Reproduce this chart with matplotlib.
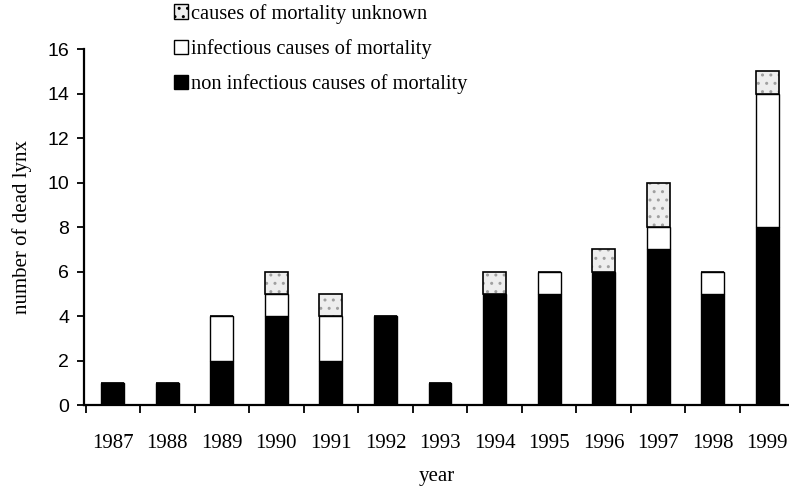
import numpy as np
import matplotlib.pyplot as plt
from matplotlib.patches import Patch

years = ["1987", "1988", "1989", "1990", "1991", "1992", "1993",
         "1994", "1995", "1996", "1997", "1998", "1999"]
non_infectious = [1, 1, 2, 4, 2, 4, 1, 5, 5, 6, 7, 5, 8]
infectious = [0, 0, 2, 1, 2, 0, 0, 0, 1, 0, 1, 1, 6]
unknown = [0, 0, 0, 1, 1, 0, 0, 1, 0, 1, 2, 0, 1]

serif = "Liberation Serif"
sans = "Liberation Sans"

fig = plt.figure(figsize=(7.89, 4.90), dpi=100)
ax = fig.add_axes([0.107, 0.173, 0.893, 0.727])

x = np.arange(len(years))
w = 0.42
nonInf = np.array(non_infectious)
inf = np.array(infectious)
unk = np.array(unknown)

ax.bar(x, nonInf, w, color="black", edgecolor="black", linewidth=1)
ax.bar(x, inf, w, bottom=nonInf, color="white", edgecolor="black", linewidth=1)
# stippled grey segment: texture first, then the outline on top
ax.bar(x, unk, w, bottom=nonInf + inf, color="#eeeeee", edgecolor="#a0a0a0",
       hatch="..", linewidth=0)
ax.bar(x, unk, w, bottom=nonInf + inf, fill=False, edgecolor="black", linewidth=1.2)

ax.set_xlim(-0.52, 12.4)
ax.set_ylim(0, 16)
ax.set_yticks(range(0, 17, 2))
ax.set_xticks(x)
ax.set_xticklabels(years, fontfamily=serif, fontsize=15)
ax.set_xticks(np.arange(-0.5, 12.5, 1), minor=True)
ax.tick_params(axis="x", which="major", length=0, pad=21)
ax.tick_params(axis="x", which="minor", length=6, width=1.3, direction="out")
ax.tick_params(axis="y", length=5, width=1.3, labelsize=14, pad=6)
for lab in ax.get_yticklabels():
    lab.set_fontfamily(sans)

for s in ["top", "right"]:
    ax.spines[s].set_visible(False)
ax.spines["left"].set_linewidth(1.6)
ax.spines["bottom"].set_linewidth(1.6)

ax.set_ylabel("number of dead lynx", fontfamily=serif, fontsize=15, labelpad=11)
ax.set_xlabel("year", fontfamily=serif, fontsize=15, labelpad=10)

handles = [
    Patch(facecolor="#eeeeee", edgecolor="black", hatch="..", label="causes of mortality unknown"),
    Patch(facecolor="white", edgecolor="black", label="infectious causes of mortality"),
    Patch(facecolor="black", edgecolor="black", label="non infectious causes of mortality"),
]
fig.legend(handles=handles, loc="upper left", bbox_to_anchor=(0.197, 1.03),
           frameon=False, prop={"family": serif, "size": 14.7},
           handlelength=0.7, handleheight=0.7, handletextpad=0.15, labelspacing=0.75)

fig.savefig("out.png", dpi=100)
